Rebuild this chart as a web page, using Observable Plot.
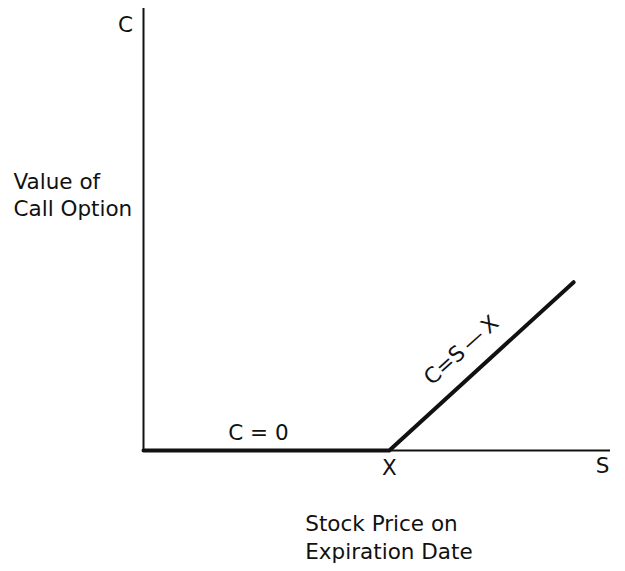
<!DOCTYPE html>
<html><head><meta charset="utf-8">
<script src="https://cdn.jsdelivr.net/npm/d3@7"></script>
<script src="https://cdn.jsdelivr.net/npm/@observablehq/plot@0.6"></script>
<style>body{margin:0;background:#fff}</style>
</head><body><div id="chart"></div>
<script>
// Data (arbitrary units: strike X = 10)
const strike = 10;
const stockPrices = [0, 10, 17.5];
const callValues = [0, 0, 7.5];
const axisMaxS = 19;
const axisMaxC = 19.7;
const labels = {
  yTop: "C",
  yTitle: "Value of\nCall Option",
  flat: "C = 0",
  rising: "C=S\u2009\u2014\u2009X",
  strikeTick: "X",
  xEnd: "S",
  xTitle: "Stock Price on\nExpiration Date"
};

const payoff = stockPrices.map((s, i) => ({s, c: callValues[i]}));
const font = "DejaVu Sans, sans-serif";
const ink = "#111";
const fs = 21.5;

const chart = Plot.plot({
  width: 625,
  height: 571,
  marginTop: 8,
  marginRight: 15,
  marginBottom: 121,
  marginLeft: 143,
  style: {fontFamily: font, background: "#fff"},
  x: {domain: [0, axisMaxS], axis: null},
  y: {domain: [0, axisMaxC], axis: null},
  marks: [
    Plot.ruleX([0], {y1: 0, y2: axisMaxC, stroke: ink, strokeWidth: 2}),
    Plot.ruleY([0], {x1: 0, x2: axisMaxS, stroke: ink, strokeWidth: 2}),
    Plot.line(payoff, {x: "s", y: "c", stroke: ink, strokeWidth: 4, strokeLinejoin: "round"}),
    Plot.text([labels.yTop], {x: 0, y: axisMaxC, text: d => d, dx: -18, dy: 17, fontSize: fs, fill: ink}),
    Plot.text([labels.yTitle], {x: 0, y: axisMaxC, text: d => d, dx: -130, dy: 185, textAnchor: "start", lineHeight: 1.27, fontSize: fs, fill: ink}),
    Plot.text([labels.flat], {x: strike / 2, y: 0, text: d => d, dx: -8, dy: -17, fontSize: fs, fill: ink}),
    Plot.text([labels.strikeTick], {x: strike, y: 0, text: d => d, dy: 18, fontSize: fs, fill: ink}),
    Plot.text([labels.xEnd], {x: axisMaxS, y: 0, text: d => d, dx: -8, dy: 16, fontSize: fs, fill: ink}),
    Plot.text([labels.rising], {x: (stockPrices[1] + stockPrices[2]) / 2, y: callValues[2] / 2, text: d => d, dx: -20, dy: -16, rotate: -42, fontSize: fs, fill: ink}),
    Plot.text([labels.xTitle], {x: strike, y: 0, text: d => d, dx: -84, dy: 86, textAnchor: "start", lineHeight: 1.3, fontSize: fs, fill: ink})
  ]
});
document.getElementById("chart").appendChild(chart);
</script>
</body></html>
